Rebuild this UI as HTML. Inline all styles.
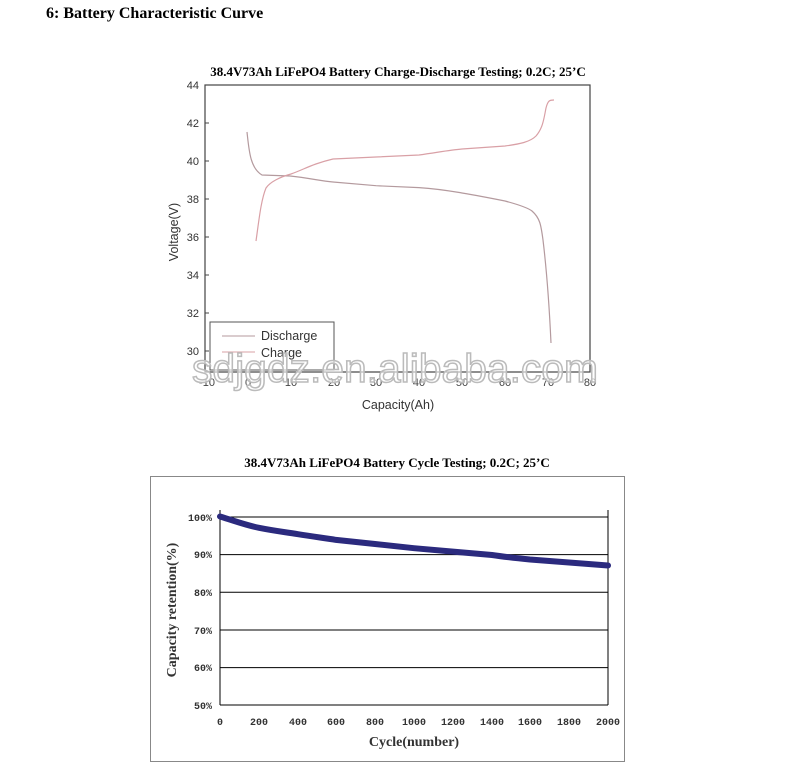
<!DOCTYPE html>
<html><head><meta charset="utf-8"><style>
body{margin:0;background:#fff;width:793px;height:767px;overflow:hidden}
</style></head><body>
<svg width="793" height="767" xmlns="http://www.w3.org/2000/svg" style="position:absolute;left:0;top:0">
<text x="46" y="18" font-family="Liberation Serif" font-weight="bold" font-size="16">6: Battery Characteristic Curve</text>
<text x="398" y="76" text-anchor="middle" font-family="Liberation Serif" font-weight="bold" font-size="13">38.4V73Ah LiFePO4 Battery Charge-Discharge Testing; 0.2C; 25’C</text>
<rect x="205" y="85" width="385" height="287" fill="none" stroke="#444" stroke-width="1.2"/>
<g font-family="Liberation Sans" font-size="11" fill="#333" text-anchor="end">
<text x="199" y="89">44</text><text x="199" y="127">42</text><text x="199" y="165">40</text><text x="199" y="203">38</text><text x="199" y="241">36</text><text x="199" y="279">34</text><text x="199" y="317">32</text><text x="199" y="355">30</text>
</g>
<g stroke="#444"><line x1="205" y1="123" x2="209" y2="123"/><line x1="205" y1="161" x2="209" y2="161"/><line x1="205" y1="199" x2="209" y2="199"/><line x1="205" y1="237" x2="209" y2="237"/><line x1="205" y1="275" x2="209" y2="275"/><line x1="205" y1="313" x2="209" y2="313"/><line x1="205" y1="351" x2="209" y2="351"/></g>
<g font-family="Liberation Sans" font-size="11" fill="#444" text-anchor="middle">
<text x="207" y="386">-10</text><text x="248" y="386">0</text><text x="291" y="386">10</text><text x="334" y="386">20</text><text x="376" y="386">30</text><text x="419" y="386">40</text><text x="462" y="386">50</text><text x="505" y="386">60</text><text x="548" y="386">70</text><text x="590" y="386">80</text>
</g>
<text x="398" y="409" text-anchor="middle" font-family="Liberation Sans" font-size="12.5" fill="#333">Capacity(Ah)</text>
<text transform="translate(178,232) rotate(-90)" text-anchor="middle" font-family="Liberation Sans" font-size="12.5" fill="#333">Voltage(V)</text>
<path fill="none" stroke="#b49a9e" stroke-width="1.2" d="M247,132 C249,150 250,168 262,175 L290,176 C310,178 320,181 333,182 L376,185.7 L419,187.6 C440,189 450,191 462,193 C480,196 495,199 505,201 C520,205 528,208 532,211 C540,218 541,225 543,240 C546,265 549,300 551,343"/>
<path fill="none" stroke="#d9a0a6" stroke-width="1.2" d="M256,241 C259,220 261,200 266,188 C270,182 280,177 291,174 C305,169 312,164 333,159 L376,157 L419,155 C440,152 450,150 462,149 L505,146 C520,144 530,142 536,136 C543,128 544,118 546,108 C548,100 550,100 554,100"/>
<rect x="210" y="322" width="124" height="48" fill="#fff" stroke="#555"/>
<line x1="222" y1="336" x2="255" y2="336" stroke="#b49a9e"/>
<line x1="222" y1="352" x2="255" y2="352" stroke="#d9a0a6"/>
<text x="261" y="340" font-family="Liberation Sans" font-size="12.5" fill="#333">Discharge</text>
<text x="261" y="357" font-family="Liberation Sans" font-size="12.5" fill="#333">Charge</text>
<text x="192" y="382" textLength="406" lengthAdjust="spacingAndGlyphs" font-family="Liberation Sans" font-size="40" fill="rgba(255,255,255,0.6)" stroke="#bbb" stroke-width="1.5">sdjgdz.en.alibaba.com</text>

<text x="397" y="467" text-anchor="middle" font-family="Liberation Serif" font-weight="bold" font-size="13">38.4V73Ah LiFePO4 Battery Cycle Testing; 0.2C; 25’C</text>
<rect x="150.5" y="476.5" width="474" height="285" fill="none" stroke="#888"/>
<g stroke="#000" stroke-width="1"><line x1="220" y1="517" x2="608" y2="517"/><line x1="220" y1="554.6" x2="608" y2="554.6"/><line x1="220" y1="592.3" x2="608" y2="592.3"/><line x1="220" y1="630" x2="608" y2="630"/><line x1="220" y1="667.6" x2="608" y2="667.6"/><line x1="220" y1="705" x2="608" y2="705"/><line x1="220" y1="510" x2="220" y2="705"/><line x1="608" y1="510" x2="608" y2="705"/></g>
<g font-family="Liberation Mono" font-size="10" font-weight="bold" fill="#333" text-anchor="end">
<text x="212" y="521">100%</text><text x="212" y="558">90%</text><text x="212" y="596">80%</text><text x="212" y="634">70%</text><text x="212" y="671">60%</text><text x="212" y="709">50%</text>
</g>
<g font-family="Liberation Mono" font-size="10" font-weight="bold" fill="#333" text-anchor="middle">
<text x="220" y="725">0</text><text x="259" y="725">200</text><text x="298" y="725">400</text><text x="336" y="725">600</text><text x="375" y="725">800</text><text x="414" y="725">1000</text><text x="453" y="725">1200</text><text x="492" y="725">1400</text><text x="530" y="725">1600</text><text x="569" y="725">1800</text><text x="608" y="725">2000</text>
</g>
<text x="414" y="746" text-anchor="middle" font-family="Liberation Serif" font-weight="bold" font-size="14" fill="#333">Cycle(number)</text>
<text transform="translate(176,610) rotate(-90)" text-anchor="middle" font-family="Liberation Serif" font-weight="bold" font-size="14" fill="#333">Capacity retention(%)</text>
<path fill="none" stroke="#2b2a7e" stroke-width="6" stroke-linecap="round" d="M220,516.5 C235,521 245,525 259,527.8 C275,531 285,532 298,534.2 C315,537 325,538 336,539.9 L375,544 L414,548.2 L453,551.6 L492,555 C505,557 515,558 530,559.5 L569,562.5 L608,565.5"/>
</svg>
</body></html>
